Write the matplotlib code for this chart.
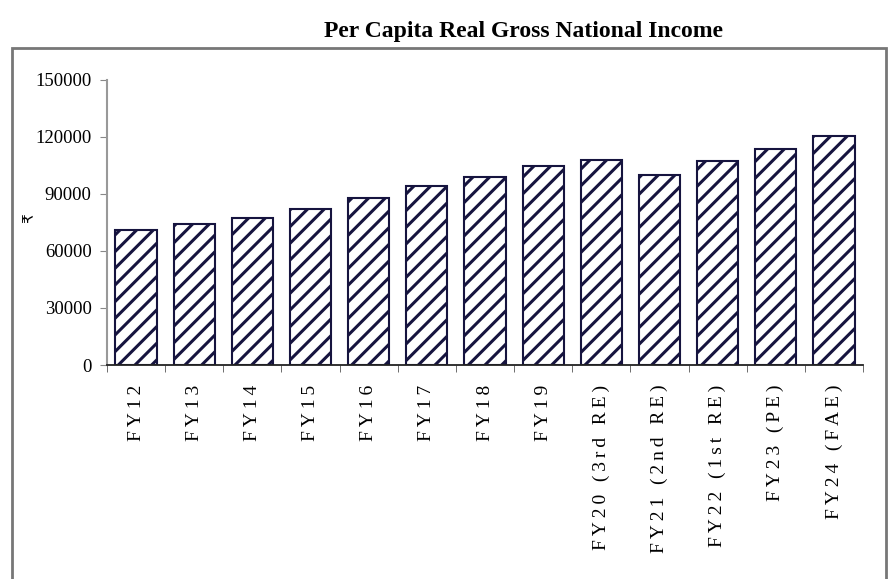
import numpy as np
import matplotlib.pyplot as plt
from matplotlib.patches import Rectangle

# per capita real GNI, rupees
years = ["FY12", "FY13", "FY14", "FY15", "FY16", "FY17", "FY18", "FY19",
         "FY20 (3rd RE)", "FY21 (2nd RE)", "FY22 (1st RE)", "FY23 (PE)", "FY24 (FAE)"]
gni = [70900, 74100, 77200, 82100, 87600, 94200, 98600, 104700,
       107700, 99800, 107200, 113300, 120300]
yticks = [0, 30000, 60000, 90000, 120000, 150000]

serif = ['Liberation Serif', 'DejaVu Serif']
plt.rcParams['font.family'] = serif
plt.rcParams['hatch.linewidth'] = 2.2

def spaced(s):  # loose letter spacing for the category labels
    return '\u2009'.join(s)

fig = plt.figure(figsize=(8.95, 5.79), dpi=100)
ax = fig.add_axes([107/895, 1-365/579, 756/895, 285.5/579])

x = np.arange(len(years))
ax.bar(x, gni, width=0.71, color='white', edgecolor='#16143f', hatch='//', linewidth=1.5)

ax.set_xlim(-0.5, len(years)-0.5)
ax.set_ylim(0, 150000)
ax.set_yticks(yticks)
ax.set_yticklabels([str(v) for v in yticks], fontsize=13.5)
ax.set_xticks(x)
ax.set_xticklabels([spaced(y) for y in years], rotation=90, fontsize=14, va='top')
ax.set_xticks(np.arange(-0.5, len(years)), minor=True)
ax.tick_params(axis='x', which='major', length=0, pad=14)
ax.tick_params(axis='x', which='minor', length=5, color='#555555', direction='out')
ax.tick_params(axis='y', length=5, color='#888888', pad=6)

ax.spines['top'].set_visible(False)
ax.spines['right'].set_visible(False)
ax.spines['left'].set_color('#999999')
ax.spines['left'].set_linewidth(1.5)
ax.spines['bottom'].set_color('#222222')
ax.spines['bottom'].set_linewidth(1.3)

fig.text(30/895, 1-218/579, '₹', rotation=90, fontsize=11, ha='center', va='center',
         family=['Liberation Serif', 'DejaVu Sans'])
fig.text(524/895, 1-31/579, 'Per Capita Real Gross National Income',
         fontsize=17, fontweight='bold', ha='center', va='center')

# grey frame around the plot area
fig.patches.append(Rectangle((12/895, -0.02), 874/895, 1-48/579+0.02,
                             transform=fig.transFigure, fill=False,
                             edgecolor='#777777', linewidth=2))

fig.savefig('out.png', dpi=100)
